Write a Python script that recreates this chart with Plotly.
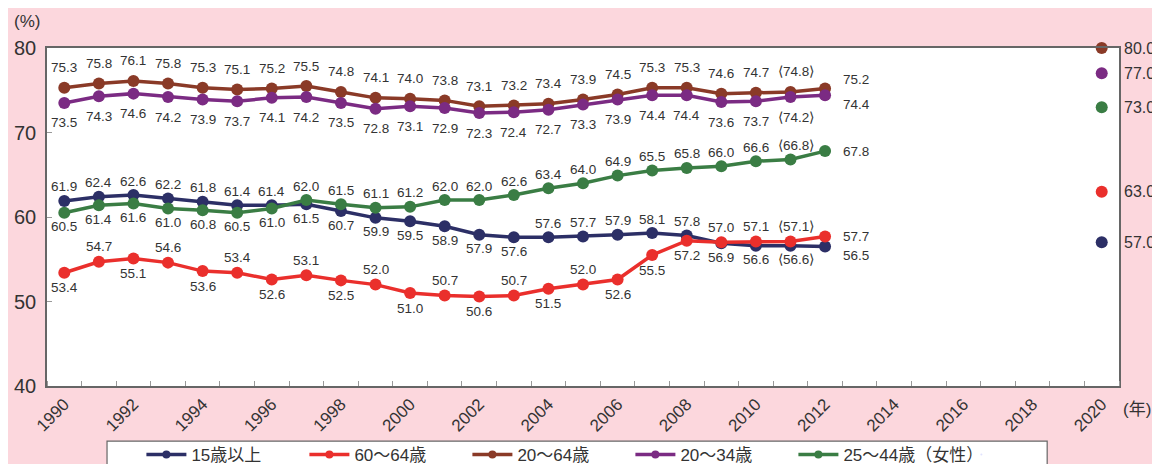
import plotly.graph_objects as go

years = list(range(1990, 2013))

age15_plus = [61.9, 62.4, 62.6, 62.2, 61.8, 61.4, 61.4, 61.5, 60.7, 59.9, 59.5, 58.9,
              57.9, 57.6, 57.6, 57.7, 57.9, 58.1, 57.8, 56.9, 56.6, 56.6, 56.5]
age60_64 = [53.4, 54.7, 55.1, 54.6, 53.6, 53.4, 52.6, 53.1, 52.5, 52.0, 51.0, 50.7,
            50.6, 50.7, 51.5, 52.0, 52.6, 55.5, 57.2, 57.0, 57.1, 57.1, 57.7]
age20_64 = [75.3, 75.8, 76.1, 75.8, 75.3, 75.1, 75.2, 75.5, 74.8, 74.1, 74.0, 73.8,
            73.1, 73.2, 73.4, 73.9, 74.5, 75.3, 75.3, 74.6, 74.7, 74.8, 75.2]
age20_34 = [73.5, 74.3, 74.6, 74.2, 73.9, 73.7, 74.1, 74.2, 73.5, 72.8, 73.1, 72.9,
            72.3, 72.4, 72.7, 73.3, 73.9, 74.4, 74.4, 73.6, 73.7, 74.2, 74.4]
female25_44 = [60.5, 61.4, 61.6, 61.0, 60.8, 60.5, 61.0, 62.0, 61.5, 61.1, 61.2, 62.0,
               62.0, 62.6, 63.4, 64.0, 64.9, 65.5, 65.8, 66.0, 66.6, 66.8, 67.8]

target_year = 2020
targets = {"20～64歳": 80.0, "20～34歳": 77.0, "25～44歳（女性）": 73.0,
           "60～64歳": 63.0, "15歳以上": 57.0}

bracket_year = 2011  # values shown in brackets

names = ["15歳以上", "60～64歳", "20～64歳", "20～34歳", "25～44歳（女性）"]
colors = {"15歳以上": "#2c2f66", "60～64歳": "#ea2f2c", "20～64歳": "#8a3a27",
          "20～34歳": "#7b2b83", "25～44歳（女性）": "#3a7d44"}
series = {"15歳以上": age15_plus, "60～64歳": age60_64, "20～64歳": age20_64,
          "20～34歳": age20_34, "25～44歳（女性）": female25_44}

# label placement codes: a = above, b = below, ru/r/rd = right (up / mid / down)
place = {
    "15歳以上": ["a"] * 7 + ["b"] * 7 + ["a"] * 5 + ["b"] * 3 + ["rd"],
    "60～64歳": ["b", "a", "b", "a", "b", "a", "b", "a", "b", "a", "b", "a", "b", "a",
                "b", "a", "b", "b", "b", "a", "a", "a", "r"],
    "20～64歳": ["a"] * 22 + ["ru"],
    "20～34歳": ["b"] * 22 + ["rd"],
    "25～44歳（女性）": ["b"] * 7 + ["a"] * 15 + ["r"],
}
gap = {"15歳以上": 14, "60～64歳": 15, "20～64歳": 20, "20～34歳": 20, "25～44歳（女性）": 14}

FONT = "Liberation Sans, Noto Sans CJK JP, sans-serif"
LABEL_COLOR = "#333333"

fig = go.Figure()
annotations = []

for nm in names:
    vals = series[nm]
    fig.add_trace(go.Scatter(
        x=years, y=vals, mode="lines+markers", name=nm, showlegend=False,
        line=dict(color=colors[nm], width=3.5),
        marker=dict(color=colors[nm], size=12),
        cliponaxis=False,
    ))
    for yr, v, p in zip(years, vals, place[nm]):
        txt = f"{v:.1f}"
        xs = 0
        if yr == bracket_year:
            txt = f"⟨{txt}⟩"
            xs = 6
        a = dict(x=yr, y=v, xref="x", yref="y", text=txt, showarrow=False,
                 font=dict(size=13.5, color=LABEL_COLOR, family=FONT))
        if p == "a":
            a.update(yshift=gap[nm], xshift=xs, xanchor="center", yanchor="middle")
        elif p == "b":
            a.update(yshift=-gap[nm], xshift=xs, xanchor="center", yanchor="middle")
        else:
            ys = {"ru": 9, "r": 0, "rd": -9}[p]
            a.update(xshift=16, yshift=ys, xanchor="left", yanchor="middle")
        annotations.append(a)

# legend-only entries
for nm in names:
    fig.add_trace(go.Scatter(
        x=[None], y=[None], mode="lines+markers", name=nm,
        line=dict(color=colors[nm], width=3.5),
        marker=dict(color=colors[nm], size=8),
    ))
# invisible spacer entry so the last legend label is not clipped
fig.add_trace(go.Scatter(x=[None], y=[None], mode="markers", name=" ",
                         marker=dict(opacity=0, size=1), hoverinfo="skip"))

# targets for 2020
t_names = list(targets.keys())
fig.add_trace(go.Scatter(
    x=[target_year] * len(t_names), y=[targets[n] for n in t_names], mode="markers",
    marker=dict(color=[colors[n] for n in t_names], size=12), showlegend=False,
    cliponaxis=False,
))
for n in t_names:
    annotations.append(dict(x=target_year, y=targets[n], xref="x", yref="y",
                            text=f"{targets[n]:.1f}", showarrow=False,
                            xanchor="left", yanchor="middle", xshift=20,
                            font=dict(size=16, color=LABEL_COLOR, family=FONT)))

annotations.append(dict(x=-0.019, y=1.078, xref="paper", yref="paper", text="(%)",
                        showarrow=False, xanchor="center", yanchor="middle",
                        font=dict(size=17, color=LABEL_COLOR, family=FONT)))
annotations.append(dict(x=1.017, y=-0.07, xref="paper", yref="paper", text="(年)",
                        showarrow=False, xanchor="center", yanchor="middle",
                        font=dict(size=17, color=LABEL_COLOR, family=FONT)))

fig.update_layout(
    width=1160, height=464,
    margin=dict(l=39, r=49, t=40, b=86, autoexpand=False),
    paper_bgcolor="#fcd7dd",
    plot_bgcolor="#ffffff",
    font=dict(family=FONT, color=LABEL_COLOR),
    annotations=annotations,
    shapes=[dict(type="rect", xref="paper", yref="paper",
                 x0=0.056, x1=0.933, y0=-0.163, y1=-0.30,
                 line=dict(color="#666666", width=1.2), fillcolor="#ffffff",
                 layer="below")],
    legend=dict(orientation="h", xref="container", yref="container",
                x=0.115, y=0.037, xanchor="left", yanchor="middle",
                bgcolor="rgba(0,0,0,0)", borderwidth=0,
                font=dict(size=17, family=FONT, color=LABEL_COLOR),
                entrywidth=108, entrywidthmode="pixels", itemwidth=40),
    xaxis=dict(range=[1989.5, 2020.5], tickmode="array", automargin=False,
               tickvals=list(range(1990, 2021, 2)), ticks="", tickangle=-45,
               tickfont=dict(size=17, family=FONT, color=LABEL_COLOR),
               showline=True, linecolor="#666666", linewidth=1.5, mirror=True,
               showgrid=False, zeroline=False,
               minor=dict(ticks="inside", ticklen=5, tickcolor="#999999",
                          tick0=1989.5, dtick=1, showgrid=False)),
    yaxis=dict(range=[40, 80], dtick=10, ticks="inside", ticklen=5, automargin=False,
               tickcolor="#999999", ticklabelstandoff=5,
               tickfont=dict(size=20, family=FONT, color=LABEL_COLOR),
               showline=True, linecolor="#666666", linewidth=1.5, mirror=True,
               showgrid=False, zeroline=False),
)

fig.write_html("out.html")
